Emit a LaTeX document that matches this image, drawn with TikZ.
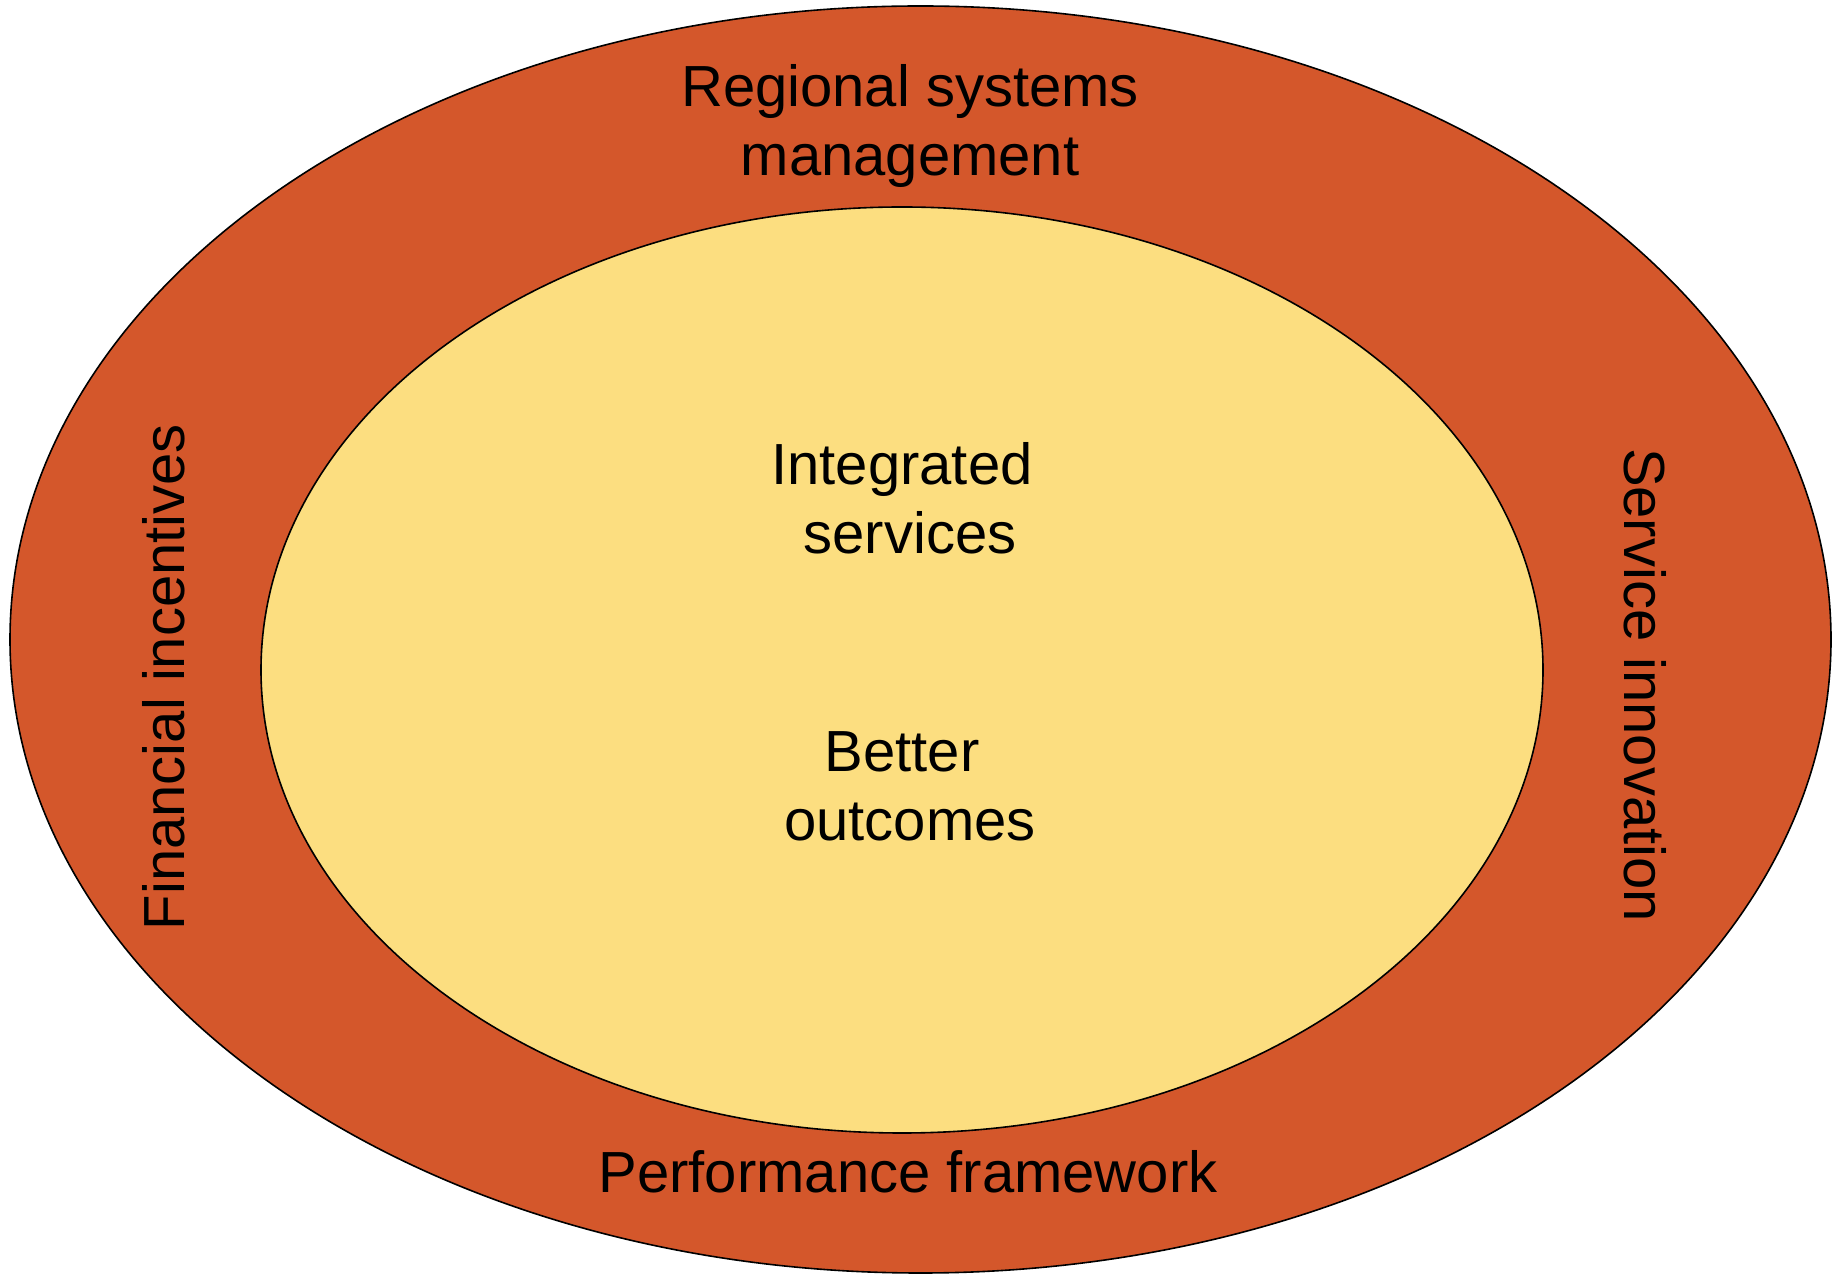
\documentclass[tikz,border=0pt]{standalone}
\usepackage{fontspec}
\setmainfont{Liberation Sans}
\usetikzlibrary{shapes.geometric}
\definecolor{outerc}{HTML}{D4572B}
\definecolor{innerc}{HTML}{FCDE80}
\tikzset{
  lbl/.style={font=\fontsize{58}{69}\selectfont, align=center, text=black, inner sep=0pt},
  ring/.style={draw=black, line width=1.6pt}
}
\begin{document}
\begin{tikzpicture}[x=1pt,y=1pt]
\useasboundingbox (0,0) rectangle (1842,1275);
\fill[white] (0,0) rectangle (1842,1275);
\path[ring, fill=outerc] (920.5,635.5) ellipse [x radius=910.5, y radius=633.5];
\path[ring, fill=innerc] (902,605) ellipse [x radius=641, y radius=463];
\node[lbl] (rsm) at (910,1149) {Regional systems\\management};
\node[lbl] (is) at (902,777) {Integrated\\~services};
\node[lbl] (bo) at (902,489) {Better\\~outcomes};
\node[lbl] (pf) at (908,103) {Performance framework};
\node[lbl, rotate=90] (fi) at (164,598) {Financial incentives};
\node[lbl, rotate=-90] (si) at (1645,590) {Service innovation};
\end{tikzpicture}
\end{document}
